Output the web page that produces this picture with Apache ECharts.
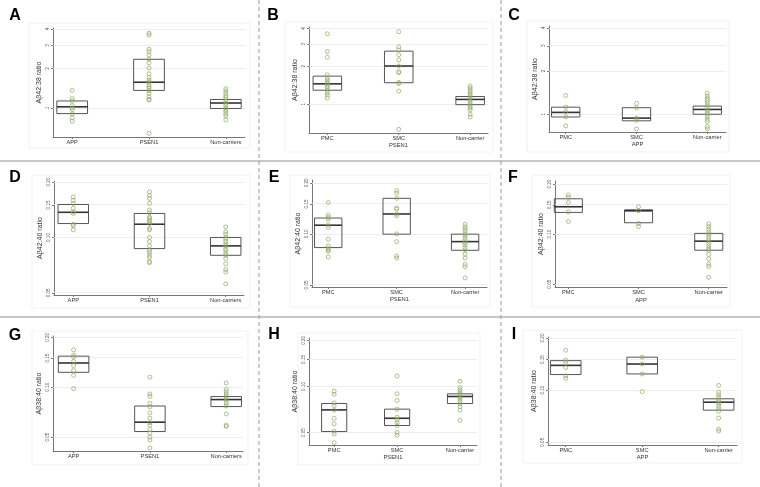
<!DOCTYPE html>
<html>
<head>
<meta charset="utf-8">
<script src="https://cdn.jsdelivr.net/npm/echarts@6/dist/echarts.min.js"></script>
<style>
html, body { margin: 0; padding: 0; background: #fff; }
#main { width: 760px; height: 487px; }
</style>
</head>
<body>
<div id="main"></div>
<script>
// tick values / labels
var ticks4238 = [1, 2, 3, 4];
var tickLabels4238 = ['1', '2', '3', '4'];
var ticks40 = [0.05, 0.10, 0.15, 0.20];
var tickLabels40 = ['0.05', '0.10', '0.15', '0.20'];

var groupsMain = ['APP', 'PSEN1', 'Non-carriers'];
var groupsSub = ['PMC', 'SMC', 'Non-carrier'];

// A  Ab42:38, APP / PSEN1 / Non-carriers
var ptsA_app = [1.36, 1.18, 1.13, 1.04, 1.0, 0.97, 0.90, 0.84, 0.79];
var ptsA_psen = [3.71, 3.6, 2.8, 2.69, 2.53, 2.35, 2.21, 2.01, 1.82, 1.71, 1.63, 1.57, 1.5, 1.45, 1.41, 1.35, 1.29, 1.22, 1.16, 1.15, 0.64];
var ptsA_nc = [1.40, 1.35, 1.29, 1.24, 1.20, 1.16, 1.12, 1.08, 1.04, 1.0, 0.97, 0.94, 0.90, 0.87, 0.81];
var boxA = [[0.905, 1.02, 1.13], [1.36, 1.57, 2.35], [0.99, 1.09, 1.16]]; // q1, median, q3

// B  PSEN1 PMC / SMC
var ptsB_pmc = [3.63, 2.62, 2.36, 1.71, 1.62, 1.56, 1.49, 1.45, 1.39, 1.35, 1.29, 1.23, 1.18, 1.12];
var ptsB_smc = [3.77, 2.86, 2.70, 2.47, 2.25, 2.01, 1.81, 1.78, 1.49, 1.46, 1.27, 0.63];
var ptsB_nc = [1.39, 1.34, 1.29, 1.25, 1.20, 1.16, 1.12, 1.08, 1.04, 1.0, 0.96, 0.93, 0.90, 0.83, 0.79];
var boxB = [[1.29, 1.45, 1.67], [1.48, 2.01, 2.64], [0.99, 1.09, 1.15]];

// C  APP PMC / SMC
var ptsC_pmc = [1.35, 1.12, 1.04, 0.96, 0.83];
var ptsC_smc = [1.19, 1.11, 0.94, 0.91, 0.79];
var ptsC_nc = [1.40, 1.34, 1.29, 1.25, 1.20, 1.16, 1.11, 1.07, 1.03, 1.0, 0.96, 0.92, 0.89, 0.82, 0.79];
var boxC = [[0.957, 1.03, 1.12], [0.90, 0.94, 1.11], [1.0, 1.08, 1.14]];

// D  Ab42:40
var ptsD_app = [0.166, 0.159, 0.153, 0.144, 0.138, 0.135, 0.118, 0.116, 0.110];
var ptsD_psen = [0.177, 0.169, 0.163, 0.153, 0.141, 0.136, 0.129, 0.127, 0.124, 0.122, 0.119, 0.112, 0.110, 0.100, 0.095, 0.090, 0.085, 0.083, 0.080, 0.078, 0.074, 0.073];
var ptsD_nc = [0.114, 0.107, 0.104, 0.100, 0.098, 0.095, 0.092, 0.090, 0.087, 0.085, 0.082, 0.080, 0.077, 0.072, 0.067, 0.065, 0.056];
var boxD = [[0.119, 0.137, 0.151], [0.087, 0.118, 0.135], [0.080, 0.090, 0.100]];

// E
var ptsE_pmc = [0.153, 0.129, 0.125, 0.122, 0.113, 0.109, 0.093, 0.085, 0.082, 0.080, 0.079, 0.073];
var ptsE_smc = [0.180, 0.174, 0.162, 0.142, 0.140, 0.131, 0.128, 0.100, 0.090, 0.074, 0.072];
var ptsE_nc = [0.114, 0.110, 0.107, 0.104, 0.100, 0.097, 0.094, 0.091, 0.0885, 0.086, 0.083, 0.0805, 0.076, 0.072, 0.066, 0.064, 0.055];
var boxE = [[0.083, 0.1125, 0.124], [0.0996, 0.131, 0.162], [0.080, 0.090, 0.0996]];

// F
var ptsF_pmc = [0.172, 0.166, 0.155, 0.136, 0.119];
var ptsF_smc = [0.146, 0.138, 0.116, 0.111];
var ptsF_nc = [0.115, 0.111, 0.107, 0.103, 0.100, 0.097, 0.094, 0.091, 0.088, 0.085, 0.082, 0.080, 0.0755, 0.071, 0.066, 0.064, 0.055];
var boxF = [[0.135, 0.146, 0.163], [0.117, 0.138, 0.140], [0.080, 0.0907, 0.101]];

// G  Ab38:40
var ptsG_app = [0.168, 0.156, 0.152, 0.143, 0.135, 0.126, 0.118, 0.098];
var ptsG_psen = [0.115, 0.091, 0.088, 0.080, 0.076, 0.070, 0.065, 0.061, 0.059, 0.0555, 0.053, 0.050, 0.048, 0.043];
var ptsG_nc = [0.106, 0.097, 0.094, 0.091, 0.088, 0.085, 0.082, 0.080, 0.077, 0.069, 0.059, 0.058];
var boxG = [[0.123, 0.140, 0.154], [0.054, 0.0615, 0.077], [0.0764, 0.0842, 0.0878]];

// H
var ptsH_pmc = [0.093, 0.089, 0.078, 0.075, 0.070, 0.062, 0.057, 0.051, 0.049, 0.043];
var ptsH_smc = [0.117, 0.0895, 0.081, 0.071, 0.063, 0.0605, 0.058, 0.0556, 0.050, 0.048];
var ptsH_nc = [0.108, 0.0985, 0.095, 0.092, 0.089, 0.0855, 0.083, 0.080, 0.077, 0.074, 0.070, 0.060];
var boxH = [[0.0508, 0.0703, 0.0774], [0.0556, 0.062, 0.0711], [0.0774, 0.086, 0.0895]];

// I
var ptsI_pmc = [0.170, 0.149, 0.145, 0.135, 0.121, 0.117];
var ptsI_smc = [0.155, 0.1415, 0.124, 0.098];
var ptsI_nc = [0.1065, 0.097, 0.094, 0.091, 0.088, 0.0856, 0.083, 0.0805, 0.078, 0.0756, 0.069, 0.0595, 0.058];
var boxI = [[0.123, 0.139, 0.148], [0.124, 0.1415, 0.155], [0.0766, 0.0852, 0.0891]];

var lg = Math.log10;
var FONT = '"Liberation Sans", Arial, sans-serif';

// layout: grid [left, top, width, height], y range, x range, letter pos, background rect
var panels = [
  {k: 'A', g: [53, 28, 192, 109], y: [0.6, 4.07], x: [-0.25, 2.25], ticks: ticks4238, tl: tickLabels4238, groups: groupsMain, sub: '', ng: 9, yname: 'Aβ42:38 ratio',
   pts: [ptsA_app, ptsA_psen, ptsA_nc], box: boxA, lp: [15, 16], bg: [29, 23, 221, 125]},
  {k: 'B', g: [309, 27, 179, 106], y: [0.589, 4.11], x: [-0.257, 2.25], ticks: ticks4238, tl: tickLabels4238, groups: groupsSub, sub: 'PSEN1', ng: 8.5, yname: 'Aβ42:38 ratio',
   pts: [ptsB_pmc, ptsB_smc, ptsB_nc], box: boxB, lp: [273, 16], bg: [285, 22, 208, 130]},
  {k: 'C', g: [549, 26, 177, 106], y: [0.752, 4.12], x: [-0.236, 2.264], ticks: ticks4238, tl: tickLabels4238, groups: groupsSub, sub: 'APP', ng: 9.5, yname: 'Aβ42:38 ratio',
   pts: [ptsC_pmc, ptsC_smc, ptsC_nc], box: boxC, lp: [514, 16], bg: [527, 21, 202, 131]},
  {k: 'D', g: [54, 181, 190, 114], y: [0.0487, 0.2026], x: [-0.253, 2.24], ticks: ticks40, tl: tickLabels40, groups: groupsMain, sub: '', ng: 9, yname: 'Aβ42:40 ratio',
   pts: [ptsD_app, ptsD_psen, ptsD_nc], box: boxD, lp: [15, 178], bg: [32, 175, 218, 133]},
  {k: 'E', g: [312, 180, 175, 107], y: [0.0486, 0.2078], x: [-0.237, 2.32], ticks: ticks40, tl: tickLabels40, groups: groupsSub, sub: 'PSEN1', ng: 9.5, yname: 'Aβ42:40 ratio',
   pts: [ptsE_pmc, ptsE_smc, ptsE_nc], box: boxE, lp: [274, 178], bg: [290, 175, 200, 132]},
  {k: 'F', g: [555, 181, 172, 106], y: [0.0481, 0.2085], x: [-0.19, 2.26], ticks: ticks40, tl: tickLabels40, groups: groupsSub, sub: 'APP', ng: 10, yname: 'Aβ42:40 ratio',
   pts: [ptsF_pmc, ptsF_smc, ptsF_nc], box: boxF, lp: [513, 178], bg: [532, 175, 198, 132]},
  {k: 'G', g: [53, 336, 190, 115], y: [0.0412, 0.2037], x: [-0.27, 2.22], ticks: ticks40, tl: tickLabels40, groups: groupsMain, sub: '', ng: 9, yname: 'Aβ38:40 ratio',
   pts: [ptsG_app, ptsG_psen, ptsG_nc], box: boxG, lp: [15, 336], bg: [32, 331, 216, 134]},
  {k: 'H', g: [309, 338, 168, 107], y: [0.0415, 0.207], x: [-0.4, 2.27], ticks: ticks40, tl: tickLabels40, groups: groupsSub, sub: 'PSEN1', ng: 9, yname: 'Aβ38:40 ratio',
   pts: [ptsH_pmc, ptsH_smc, ptsH_nc], box: boxH, lp: [274, 335], bg: [298, 333, 182, 132]},
  {k: 'I', g: [548, 337, 189, 108], y: [0.0482, 0.2027], x: [-0.232, 2.24], ticks: ticks40, tl: tickLabels40, groups: groupsSub, sub: 'APP', ng: 7, yname: 'Aβ38:40 ratio',
   pts: [ptsI_pmc, ptsI_smc, ptsI_nc], box: boxI, lp: [514, 335], bg: [523, 330, 219, 133]}
];

var grids = [], xAxes = [], yAxes = [], series = [], graphics = [];

panels.forEach(function (p, i) {
  grids.push({left: p.g[0], top: p.g[1], width: p.g[2], height: p.g[3]});

  xAxes.push({
    gridIndex: i, type: 'value', min: p.x[0], max: p.x[1],
    name: p.sub, nameLocation: 'middle', nameGap: p.ng,
    nameTextStyle: {fontSize: 5.8, color: '#333', fontFamily: FONT},
    axisLine: {onZero: false, lineStyle: {color: '#777', width: 1}},
    axisTick: {show: true, customValues: [0, 1, 2], length: 2, lineStyle: {color: '#777'}},
    axisLabel: {customValues: [0, 1, 2], fontSize: 5.7, color: '#333', margin: 2, fontFamily: FONT,
      formatter: function (v) { return p.groups[Math.round(v)]; }},
    splitLine: {show: false}
  });

  var tv = p.ticks.map(lg);
  yAxes.push({
    gridIndex: i, type: 'value', min: lg(p.y[0]), max: lg(p.y[1]),
    name: p.yname, nameLocation: 'middle', nameGap: 10,
    nameTextStyle: {fontSize: 7, color: '#333', fontFamily: FONT},
    axisLine: {show: true, onZero: false, lineStyle: {color: '#777', width: 1}},
    axisTick: {show: true, customValues: tv, length: 2, lineStyle: {color: '#777'}},
    axisLabel: {customValues: tv, rotate: 90, fontSize: 4.6, color: '#555', margin: 3, fontFamily: FONT,
      formatter: function (v) {
        for (var j = 0; j < tv.length; j++) if (Math.abs(tv[j] - v) < 1e-6) return p.tl[j];
        return '';
      }},
    splitLine: {show: false}
  });

  // boxes (no whiskers)
  series.push({
    type: 'custom', xAxisIndex: i, yAxisIndex: i, z: 3, silent: true,
    data: p.box.map(function (b, k) { return [k, lg(b[0]), lg(b[1]), lg(b[2])]; }),
    encode: {x: 0, y: [1, 2, 3]},
    renderItem: function (params, api) {
      var x = api.value(0);
      var tl = api.coord([x - 0.2, api.value(3)]);
      var br = api.coord([x + 0.2, api.value(1)]);
      var ml = api.coord([x - 0.2, api.value(2)]);
      var mr = api.coord([x + 0.2, api.value(2)]);
      return {type: 'group', children: [
        {type: 'rect', shape: {x: tl[0], y: tl[1], width: br[0] - tl[0], height: br[1] - tl[1]},
         style: {fill: 'rgba(255,255,255,0)', stroke: '#555', lineWidth: 1}},
        {type: 'line', shape: {x1: ml[0], y1: ml[1], x2: mr[0], y2: mr[1]},
         style: {stroke: '#333', lineWidth: 1.6}}
      ]};
    }
  });

  var d = [];
  p.pts.forEach(function (arr, k) { arr.forEach(function (v) { d.push([k, lg(v)]); }); });
  series.push({
    type: 'scatter', xAxisIndex: i, yAxisIndex: i, z: 4, silent: true,
    symbol: 'circle', symbolSize: 4,
    itemStyle: {color: 'rgba(255,255,255,0)', borderColor: '#8fa866', borderWidth: 0.9},
    data: d,
    markLine: {
      silent: true, symbol: 'none', label: {show: false}, z: 1,
      lineStyle: {color: '#e8e8e8', width: 0.8, type: 'solid'},
      data: tv.map(function (t) { return {yAxis: t}; })
    }
  });

  graphics.push({type: 'rect', z: -10, silent: true,
    shape: {x: p.bg[0], y: p.bg[1], width: p.bg[2], height: p.bg[3]},
    style: {fill: '#fff', stroke: '#f1f1f1', lineWidth: 1}});
  graphics.push({type: 'text', silent: true,
    style: {text: p.k, x: p.lp[0], y: p.lp[1], fill: '#000', font: 'bold 16px ' + FONT,
      align: 'center', verticalAlign: 'middle'}});
});

// panel separators
graphics.push({type: 'line', silent: true, shape: {x1: 0, y1: 161, x2: 760, y2: 161}, style: {stroke: '#b4b4b4', lineWidth: 1.5}});
graphics.push({type: 'line', silent: true, shape: {x1: 0, y1: 317, x2: 760, y2: 317}, style: {stroke: '#b4b4b4', lineWidth: 1.5}});
graphics.push({type: 'line', silent: true, shape: {x1: 259, y1: 0, x2: 259, y2: 487}, style: {stroke: '#999', lineWidth: 1, lineDash: [4, 3]}});
graphics.push({type: 'line', silent: true, shape: {x1: 501, y1: 0, x2: 501, y2: 487}, style: {stroke: '#999', lineWidth: 1, lineDash: [4, 3]}});

var myChart = echarts.init(document.getElementById('main'));
myChart.setOption({
  backgroundColor: '#fff',
  animation: false,
  textStyle: {fontFamily: FONT},
  grid: grids,
  xAxis: xAxes,
  yAxis: yAxes,
  series: series,
  graphic: {elements: graphics}
});
</script>
</body>
</html>
